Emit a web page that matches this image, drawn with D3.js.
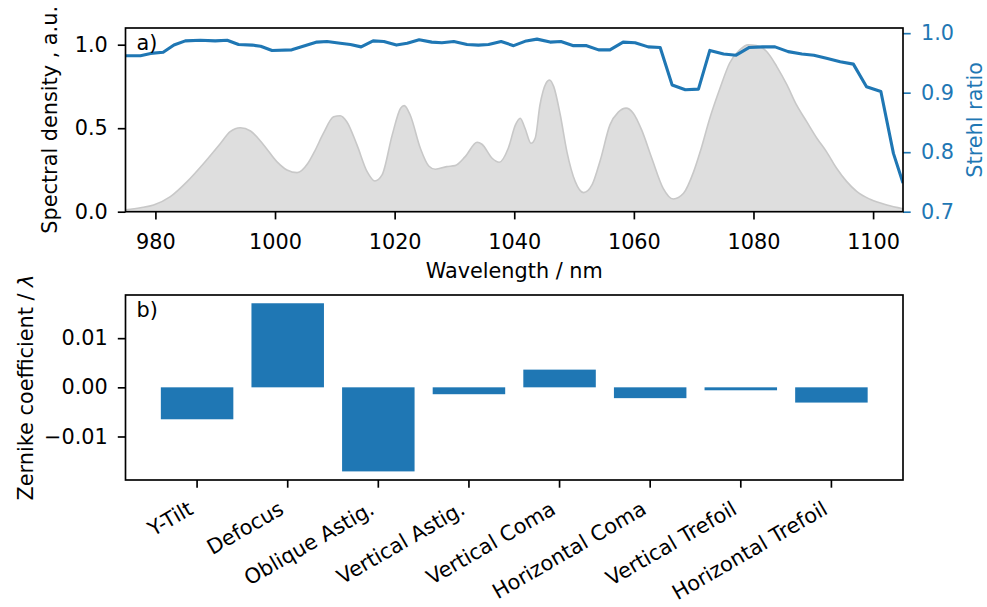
<!DOCTYPE html>
<html>
<head>
<meta charset="utf-8">
<script src="https://cdn.jsdelivr.net/npm/d3@7"></script>
<style>
  body { margin: 0; background: #fff; }
  svg text { font-family: 'DejaVu Sans', sans-serif; }
</style>
</head>
<body>
<div id="chart"></div>
<script>
// spectrum (grey area)
const specWl = [975.0, 977.5, 979.7, 982.5, 985.3, 988.1, 990.9, 992.5, 994.2, 995.9, 998.1, 1000.3, 1002.0, 1003.7,
  1005.5, 1006.6, 1008.1, 1009.8, 1010.9, 1012.0, 1013.7, 1015.4, 1016.7, 1017.9, 1019.6, 1021.0, 1021.6, 1022.6,
  1024.3, 1025.7, 1026.8, 1028.7, 1030.1, 1031.8, 1033.8, 1034.6, 1036.3, 1037.5, 1039.0, 1040.2, 1041.0, 1041.8,
  1042.8, 1043.5, 1044.3, 1045.3, 1045.9, 1046.6, 1047.7, 1048.8, 1050.2, 1051.6, 1053.0, 1054.4, 1056.0, 1057.4,
  1058.7, 1059.9, 1061.3, 1063.0, 1064.9, 1066.6, 1068.3, 1070.0, 1071.1, 1072.7, 1074.4, 1076.0, 1077.7, 1079.1,
  1080.5, 1082.2, 1083.9, 1085.6, 1087.2, 1088.9, 1090.6, 1092.2, 1093.9, 1095.6, 1097.3, 1099.5, 1102.3, 1105.0];
const specVal = [0.012, 0.024, 0.040, 0.090, 0.180, 0.290, 0.410, 0.479, 0.503, 0.483, 0.400, 0.300, 0.250, 0.234,
  0.290, 0.360, 0.470, 0.569, 0.575, 0.539, 0.400, 0.240, 0.184, 0.220, 0.460, 0.620, 0.635, 0.579,
  0.380, 0.274, 0.254, 0.270, 0.276, 0.330, 0.416, 0.404, 0.320, 0.296, 0.380, 0.520, 0.560, 0.500,
  0.410, 0.440, 0.639, 0.769, 0.789, 0.749, 0.579, 0.360, 0.180, 0.114, 0.160, 0.310, 0.520, 0.596,
  0.620, 0.590, 0.490, 0.320, 0.140, 0.076, 0.110, 0.240, 0.360, 0.560, 0.739, 0.889, 0.969, 0.999,
  0.995, 0.959, 0.869, 0.759, 0.639, 0.539, 0.440, 0.360, 0.260, 0.180, 0.120, 0.074, 0.040, 0.018];

// Strehl ratio (right axis)
const strehlWl = [975.0, 977.5, 979.2, 981.3, 983.1, 985.0, 987.5, 990.0, 992.0, 993.9, 996.2, 997.6, 999.5, 1002.8,
  1004.7, 1007.0, 1008.7, 1010.9, 1012.6, 1014.4, 1016.4, 1018.2, 1020.3, 1022.1, 1024.1, 1026.2, 1027.9, 1029.9,
  1032.1, 1034.0, 1035.7, 1037.8, 1039.9, 1042.0, 1043.8, 1046.0, 1047.8, 1049.9, 1052.1, 1054.1, 1056.0, 1058.2,
  1060.2, 1062.4, 1064.4, 1066.4, 1068.6, 1070.8, 1072.7, 1075.0, 1077.1, 1079.3, 1081.5, 1083.6, 1085.8, 1088.1,
  1090.1, 1092.2, 1094.5, 1096.7, 1098.9, 1101.3, 1103.4, 1105.0];
const strehlVal = [0.962, 0.962, 0.966, 0.968, 0.980, 0.987, 0.988, 0.987, 0.988, 0.981, 0.980, 0.978, 0.971, 0.972,
  0.978, 0.985, 0.986, 0.983, 0.981, 0.977, 0.987, 0.986, 0.980, 0.983, 0.989, 0.985, 0.984, 0.986,
  0.981, 0.980, 0.981, 0.986, 0.979, 0.987, 0.990, 0.985, 0.986, 0.979, 0.979, 0.972, 0.972, 0.985,
  0.984, 0.977, 0.976, 0.913, 0.905, 0.906, 0.971, 0.965, 0.963, 0.976, 0.977, 0.977, 0.969, 0.965,
  0.963, 0.958, 0.952, 0.948, 0.910, 0.902, 0.798, 0.748];

const wlTicks = [980, 1000, 1020, 1040, 1060, 1080, 1100];
const densityTicks = [0.0, 0.5, 1.0];
const strehlTicks = [0.7, 0.8, 0.9, 1.0];

// Zernike modes
const modes = ["Y-Tilt", "Defocus", "Oblique Astig.", "Vertical Astig.", "Vertical Coma",
  "Horizontal Coma", "Vertical Trefoil", "Horizontal Trefoil"];
const zernike = [-0.0065, 0.0171, -0.0171, -0.0014, 0.0036, -0.0022, -0.0006, -0.0031];
const zernikeTicks = [-0.01, 0.00, 0.01];

const blue = "#1f77b4";
const fs = "20.8px";
const font = "'DejaVu Sans', sans-serif";
const tick = 7.7;
const lw = 1.67;

const panelA = { left: 125.5, right: 903, top: 28, bottom: 211.7 };
const panelB = { left: 125.5, right: 903, top: 295, bottom: 480 };

const svg = d3.select("#chart")
  .append("svg")
  .attr("width", 987)
  .attr("height", 607)
  .style("font-family", font);

function styleAxis(g, color) {
  g.attr("font-family", font).attr("font-size", null);
  g.select(".domain").remove();
  g.selectAll(".tick line").attr("stroke", color).attr("stroke-width", lw);
  g.selectAll(".tick text").attr("fill", color).style("font-size", fs).style("font-family", font);
}

// ---------- panel a ----------
const x = d3.scaleLinear().domain([975, 1105]).range([panelA.left, panelA.right]);
const yDen = d3.scaleLinear().domain([0, 1.1]).range([panelA.bottom, panelA.top]);
const yStr = d3.scaleLinear().domain([0.7, 1.0087]).range([panelA.bottom, panelA.top]);

svg.append("clipPath").attr("id", "clipA")
  .append("rect")
  .attr("x", panelA.left).attr("y", panelA.top)
  .attr("width", panelA.right - panelA.left)
  .attr("height", panelA.bottom - panelA.top);

const spec = specWl.map((w, i) => [w, specVal[i]]);

svg.append("path")
  .datum(spec)
  .attr("clip-path", "url(#clipA)")
  .attr("fill", "#dedede")
  .attr("d", d3.area().x(d => x(d[0])).y0(yDen(0)).y1(d => yDen(d[1])).curve(d3.curveMonotoneX));

svg.append("path")
  .datum(spec)
  .attr("clip-path", "url(#clipA)")
  .attr("fill", "none")
  .attr("stroke", "#c8c8c8")
  .attr("stroke-width", 1.6)
  .attr("d", d3.line().x(d => x(d[0])).y(d => yDen(d[1])).curve(d3.curveMonotoneX));

const strehl = strehlWl.map((w, i) => [w, strehlVal[i]]);
svg.append("path")
  .datum(strehl)
  .attr("clip-path", "url(#clipA)")
  .attr("fill", "none")
  .attr("stroke", blue)
  .attr("stroke-width", 3.1)
  .attr("stroke-linejoin", "round")
  .attr("d", d3.line().x(d => x(d[0])).y(d => yStr(d[1])));

svg.append("g")
  .attr("transform", `translate(0,${panelA.bottom})`)
  .call(d3.axisBottom(x).tickValues(wlTicks).tickFormat(d3.format("d"))
    .tickSize(tick).tickPadding(15).tickSizeOuter(0))
  .call(g => styleAxis(g, "#000"));

svg.append("g")
  .attr("transform", `translate(${panelA.left},0)`)
  .call(d3.axisLeft(yDen).tickValues(densityTicks).tickFormat(d3.format(".1f"))
    .tickSize(tick).tickPadding(10).tickSizeOuter(0))
  .call(g => styleAxis(g, "#000"));

svg.append("g")
  .attr("transform", `translate(${panelA.right},0)`)
  .call(d3.axisRight(yStr).tickValues(strehlTicks).tickFormat(d3.format(".1f"))
    .tickSize(tick).tickPadding(10.3).tickSizeOuter(0))
  .call(g => styleAxis(g, blue));

svg.append("rect")
  .attr("x", panelA.left).attr("y", panelA.top)
  .attr("width", panelA.right - panelA.left)
  .attr("height", panelA.bottom - panelA.top)
  .attr("fill", "none").attr("stroke", "#000").attr("stroke-width", lw);

svg.append("text")
  .attr("x", panelA.left + 11).attr("y", panelA.top + 22)
  .style("font-size", fs)
  .text("a)");

svg.append("text")
  .attr("transform", `translate(57,${(panelA.top + panelA.bottom) / 2}) rotate(-90)`)
  .attr("text-anchor", "middle")
  .style("font-size", fs)
  .text("Spectral density , a.u.");

svg.append("text")
  .attr("transform", `translate(982,${(panelA.top + panelA.bottom) / 2}) rotate(-90)`)
  .attr("text-anchor", "middle")
  .attr("fill", blue)
  .style("font-size", fs)
  .text("Strehl ratio");

svg.append("text")
  .attr("x", (panelA.left + panelA.right) / 2).attr("y", 278)
  .attr("text-anchor", "middle")
  .style("font-size", fs)
  .text("Wavelength / nm");

// ---------- panel b ----------
const xb = d3.scaleBand()
  .domain(modes)
  .range([panelB.left, panelB.right])
  .paddingInner(0.2)
  .paddingOuter(0.39);
const yb = d3.scaleLinear().domain([-0.01885, 0.01878]).range([panelB.bottom, panelB.top]);

svg.append("g")
  .selectAll("rect")
  .data(zernike)
  .enter()
  .append("rect")
  .attr("x", (d, i) => xb(modes[i]))
  .attr("width", xb.bandwidth())
  .attr("y", d => yb(Math.max(d, 0)))
  .attr("height", d => Math.abs(yb(d) - yb(0)))
  .attr("fill", blue);

const xAxisB = svg.append("g")
  .attr("transform", `translate(0,${panelB.bottom})`)
  .call(d3.axisBottom(xb).tickSize(tick).tickSizeOuter(0))
  .call(g => styleAxis(g, "#000"));

xAxisB.selectAll(".tick text")
  .attr("text-anchor", "end")
  .attr("dy", null)
  .attr("y", null)
  .attr("transform", "translate(-2.5,33) rotate(-30)");

svg.append("g")
  .attr("transform", `translate(${panelB.left},0)`)
  .call(d3.axisLeft(yb).tickValues(zernikeTicks).tickFormat(d3.format(".2f"))
    .tickSize(tick).tickPadding(10).tickSizeOuter(0))
  .call(g => styleAxis(g, "#000"));

svg.append("rect")
  .attr("x", panelB.left).attr("y", panelB.top)
  .attr("width", panelB.right - panelB.left)
  .attr("height", panelB.bottom - panelB.top)
  .attr("fill", "none").attr("stroke", "#000").attr("stroke-width", lw);

svg.append("text")
  .attr("x", panelB.left + 11).attr("y", panelB.top + 22)
  .style("font-size", fs)
  .text("b)");

const zl = svg.append("text")
  .attr("transform", `translate(33,${(panelB.top + panelB.bottom) / 2}) rotate(-90)`)
  .attr("text-anchor", "middle")
  .style("font-size", fs);
zl.append("tspan").text("Zernike coefficient / ");
zl.append("tspan").style("font-style", "italic").text("λ");
</script>
</body>
</html>
